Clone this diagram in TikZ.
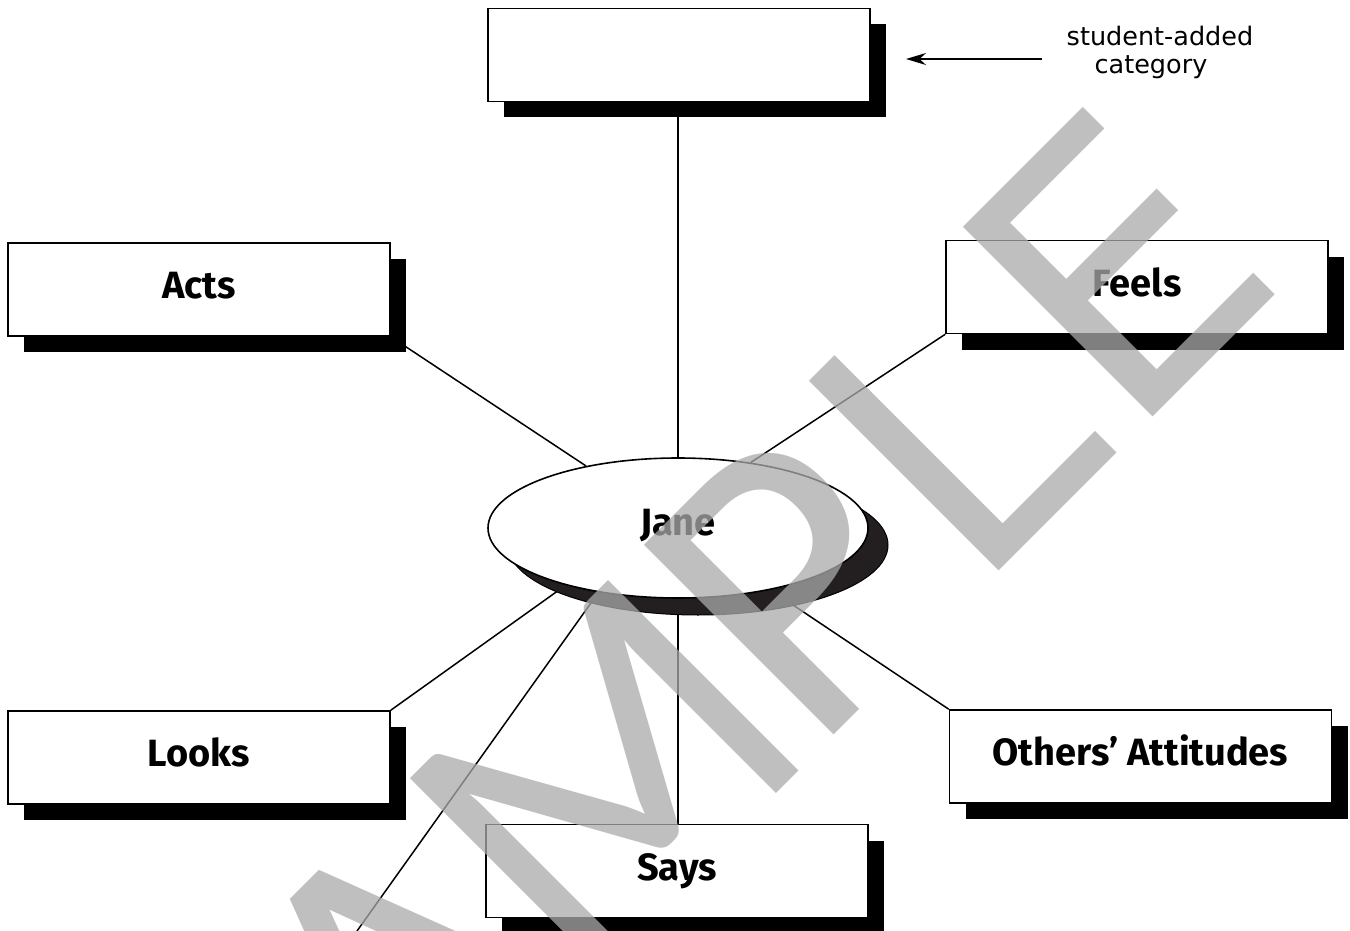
\documentclass[tikz,border=0pt]{standalone}
\usepackage{fontspec}
\setmainfont{Fira Sans}
\newfontfamily\wmfont{DejaVu Sans}
\newfontfamily\wmMfont{Lato}
\newfontfamily\notefont{DejaVu Sans}
\usetikzlibrary{shapes.geometric,shadows,arrows.meta}
\pgfdeclarelayer{bg}
\pgfsetlayers{bg,main}
\definecolor{shadowdark}{HTML}{231F20}
\definecolor{wmgray}{gray}{0.667}
\begin{document}
\begin{tikzpicture}[x=0.5pt,y=-0.5pt,
  catbox/.style={draw=black, line width=0.8pt, fill=white,
    minimum width=191pt, minimum height=46.5pt, inner sep=0pt,
    font=\bfseries\fontsize{19}{21}\selectfont, text height=13.1pt, text depth=4pt,
    drop shadow={shadow xshift=8pt, shadow yshift=-8pt, fill=black, opacity=1}},
  centre/.style={ellipse, draw=black, line width=0.8pt, fill=white,
    minimum width=190pt, minimum height=70pt, inner sep=0pt,
    font=\bfseries\fontsize{19}{21}\selectfont, text height=13.1pt, text depth=6pt,
    drop shadow={shadow xshift=10pt, shadow yshift=-8.5pt, fill=shadowdark, draw=black, line width=0.5pt, opacity=1}},
  link/.style={draw=black, line width=0.75pt},
  note/.style={font=\notefont\fontsize{12.75}{13.85}\selectfont, align=center, inner sep=0pt},
  wmletter/.style={text=wmgray, text opacity=0.75, rotate=45, anchor=center, inner sep=0pt,
    font=\wmfont\fontsize{184}{184}\selectfont},
  wmletterM/.style={wmletter, font=\wmMfont\fontsize{188}{188}\selectfont}
]
\useasboundingbox (0,0) rectangle (1350,931);
\begin{pgfonlayer}{bg}
  \fill[white] (0,0) rectangle (1350,931);
\end{pgfonlayer}

% nodes
\node[catbox] (top) at (679,55) {};
\node[catbox] (acts) at (199,289.5) {Acts};
\node[catbox] (feels) at (1137,287) {Feels};
\node[catbox] (looks) at (199,757.5) {Looks};
\node[catbox] (others) at (1140.5,756.5) {Others’ Attitudes};
\node[catbox] (says) at (677,871) {Says};
\node[centre] (jane) at (678,528) {Jane};

\node[note, anchor=north] (lbl) at (1160,25.6) {student-added\\category\rule{9pt}{0pt}};
\coordinate (arrstart) at (1042,59);
\coordinate (arrend) at (906,59);
\draw[line width=0.8pt, -{Stealth[length=10pt,width=6pt]}] (arrstart) -- (arrend);

\coordinate (free) at (357,931);

% connectors
\begin{pgfonlayer}{bg}
  \draw[link] (jane.north) -- (jane.north |- top.south);
  \draw[link] (acts.south east) -- (jane.146);
  \draw[link] (feels.south west) -- (jane.42.5);
  \draw[link] (looks.north east) -- (jane.207);
  \draw[link] (others.north west) -- (jane);
  \draw[link] (jane.south) -- (jane.south |- says.north);
  \draw[link] (jane.219) -- (free);
\end{pgfonlayer}

% watermark
\begin{scope}
  \clip (0,0) rectangle (1350,931);
  \node[wmletter] (wS) at (219,1161) {S};
  \node[wmletter] (wA) at (400,980) {A};
  \node[wmletterM] (wM) at (605,775) {M};
  \node[wmletter] (wP) at (792,587) {P};
  \node[wmletter] (wL) at (951,429) {L};
  \node[wmletter] (wE) at (1115,265) {E};
\end{scope}
\end{tikzpicture}
\end{document}
